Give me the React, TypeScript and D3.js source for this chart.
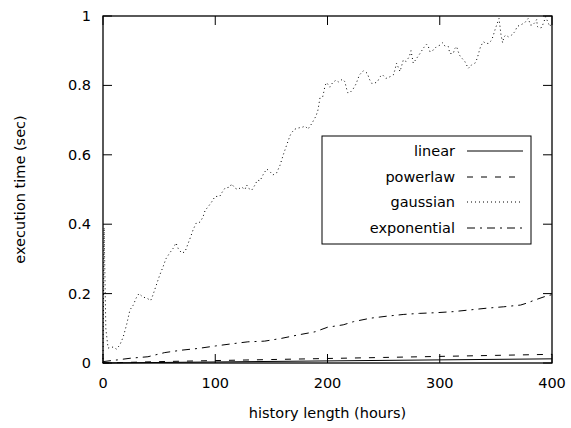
import React from "react";
import * as d3 from "d3";

// execution time (sec) vs history length (hours) for four kernels
const gaussianX = [0, 1, 2.5, 4.5, 9, 12, 15, 18, 21, 24, 27, 29.5, 32, 35.6, 39, 42.5, 44.5, 47, 50.5, 53.5, 56, 59.4, 62.4, 65, 67, 70, 73, 76, 78, 80.4, 83, 86.4, 89, 91, 93.6, 96.8, 99.8, 104, 105.7, 108.7, 113, 114.6, 117.6, 120, 123.5, 126.5, 128, 129.4, 132.5, 135.4, 137.5, 139.9, 142.5, 145.8, 148, 151.4, 154.7, 157.7, 160.6, 163.6, 166.6, 168, 171, 173.7, 178, 180, 182.6, 186, 189.8, 191.5, 193.3, 195.7, 196.9, 197.8, 199.3, 202, 204.6, 207.5, 209.6, 213.5, 215.6, 216.5, 218, 220, 222.9, 225.4, 228.4, 231.9, 235.5, 237.3, 239.4, 241.4, 244.4, 246.8, 249.2, 252, 255.7, 258.6, 260, 261.5, 264.6, 267.5, 270, 272.9, 274.4, 276.4, 279.4, 282.4, 285.3, 288.3, 289.8, 291.3, 294.3, 297.2, 300.2, 302.6, 304.7, 307.6, 309, 312, 313.6, 315, 316.5, 318, 322.5, 325.4, 328.4, 331.4, 333.4, 335, 336.4, 338.8, 341.2, 343.3, 346.2, 347.8, 349.2, 350.7, 352.8, 354.6, 356, 357.2, 359, 361, 364, 367, 369, 372, 375.8, 378.8, 380.9, 382.7, 384.7, 386.4, 386.9, 388.7, 390.8, 392.9, 394.3, 396, 398, 400];
const gaussianY = [0.0, 0.39, 0.1, 0.043, 0.046, 0.04, 0.052, 0.075, 0.11, 0.153, 0.167, 0.187, 0.2, 0.19, 0.187, 0.18, 0.196, 0.22, 0.253, 0.277, 0.3, 0.317, 0.33, 0.346, 0.33, 0.317, 0.32, 0.346, 0.363, 0.385, 0.403, 0.406, 0.42, 0.44, 0.45, 0.464, 0.48, 0.48, 0.49, 0.504, 0.507, 0.516, 0.504, 0.5, 0.507, 0.5, 0.513, 0.504, 0.498, 0.513, 0.527, 0.525, 0.542, 0.559, 0.554, 0.542, 0.548, 0.57, 0.6, 0.628, 0.655, 0.664, 0.674, 0.677, 0.68, 0.683, 0.674, 0.69, 0.712, 0.729, 0.764, 0.767, 0.784, 0.8, 0.808, 0.795, 0.808, 0.815, 0.81, 0.818, 0.81, 0.796, 0.779, 0.779, 0.79, 0.804, 0.83, 0.842, 0.835, 0.818, 0.806, 0.806, 0.81, 0.825, 0.83, 0.82, 0.825, 0.83, 0.844, 0.864, 0.84, 0.873, 0.869, 0.883, 0.9, 0.864, 0.878, 0.892, 0.907, 0.919, 0.912, 0.897, 0.902, 0.912, 0.916, 0.923, 0.913, 0.912, 0.892, 0.892, 0.907, 0.912, 0.897, 0.885, 0.868, 0.849, 0.859, 0.864, 0.878, 0.897, 0.912, 0.926, 0.921, 0.921, 0.93, 0.945, 0.96, 0.974, 0.993, 0.945, 0.923, 0.94, 0.945, 0.94, 0.945, 0.955, 0.97, 0.974, 0.981, 0.993, 0.974, 0.974, 0.981, 0.99, 0.97, 0.965, 0.967, 0.984, 0.998, 0.985, 0.97, 0.98];

const exponentialX = [0, 13, 25, 40, 55, 70, 85, 100, 114, 129, 144, 159, 174, 189, 200, 214, 223, 238, 253, 268, 282, 297, 312, 327, 342, 357, 372, 377, 386, 395, 400];
const exponentialY = [0.004, 0.009, 0.014, 0.018, 0.03, 0.037, 0.042, 0.049, 0.055, 0.061, 0.063, 0.071, 0.081, 0.09, 0.103, 0.11, 0.119, 0.129, 0.135, 0.14, 0.143, 0.145, 0.148, 0.153, 0.158, 0.162, 0.167, 0.172, 0.183, 0.193, 0.197];

const powerlawX = [0, 50, 100, 150, 200, 250, 300, 350, 400];
const powerlawY = [0, 0.004, 0.007, 0.01, 0.013, 0.016, 0.019, 0.022, 0.025];

const linearX = [0, 100, 200, 300, 400];
const linearY = [0, 0.003, 0.006, 0.009, 0.012];

const xTicks = [0, 100, 200, 300, 400];
const yTicks = [0, 0.2, 0.4, 0.6, 0.8, 1];

const seriesNames = ["linear", "powerlaw", "gaussian", "exponential"];

const W = 571;
const H = 428;
const FONT = "DejaVu Sans, sans-serif";

export default function App() {
  const x = d3.scaleLinear().domain([0, 400]).range([103, 552]);
  const y = d3.scaleLinear().domain([0, 1]).range([363, 16]);

  const line = d3
    .line<[number, number]>()
    .x((d) => x(d[0]))
    .y((d) => y(d[1]));

  const zip = (xs: number[], ys: number[]) =>
    xs.map((v, i) => [v, ys[i]] as [number, number]);

  const series = [
    { name: seriesNames[0], data: zip(linearX, linearY), dash: "none" },
    { name: seriesNames[1], data: zip(powerlawX, powerlawY), dash: "6,8" },
    { name: seriesNames[2], data: zip(gaussianX, gaussianY), dash: "1,3" },
    { name: seriesNames[3], data: zip(exponentialX, exponentialY), dash: "8,5,2,5" },
  ];

  const [x0, x1] = x.range();
  const [yb, yt] = y.range();
  const tickLen = 9;

  const legend = { left: 322, top: 136, right: 531, bottom: 244 };
  const rowY = [151, 177, 202, 228];

  return (
    <svg
      width={W}
      height={H}
      style={{ position: "absolute", left: 0, top: 0, background: "#fff" }}
      fontFamily={FONT}
    >
      <rect x={0} y={0} width={W} height={H} fill="#fff" />

      {/* series */}
      {series.map((s) => (
        <path
          key={s.name}
          d={line(s.data) || ""}
          fill="none"
          stroke="#000"
          strokeWidth={1}
          strokeDasharray={s.dash}
        />
      ))}

      {/* ticks, mirrored on all sides */}
      {xTicks.map((t) => (
        <g key={"xt" + t}>
          <line x1={x(t)} x2={x(t)} y1={yb} y2={yb - tickLen} stroke="#000" />
          <line x1={x(t)} x2={x(t)} y1={yt} y2={yt + tickLen} stroke="#000" />
          <text
            x={x(t)}
            y={yb + 25}
            textAnchor="middle"
            fontSize={14.5}
            fill="#000"
          >
            {d3.format("d")(t)}
          </text>
        </g>
      ))}
      {yTicks.map((t) => (
        <g key={"yt" + t}>
          <line x1={x0} x2={x0 + tickLen} y1={y(t)} y2={y(t)} stroke="#000" />
          <line x1={x1} x2={x1 - tickLen} y1={y(t)} y2={y(t)} stroke="#000" />
          <text
            x={x0 - 12}
            y={y(t) + 5}
            textAnchor="end"
            fontSize={14.5}
            fill="#000"
          >
            {t === 0 || t === 1 ? String(t) : d3.format(".1f")(t)}
          </text>
        </g>
      ))}

      {/* frame */}
      <rect
        x={x0}
        y={yt}
        width={x1 - x0}
        height={yb - yt}
        fill="none"
        stroke="#000"
        strokeWidth={1.3}
      />

      {/* axis titles */}
      <text
        x={(x0 + x1) / 2}
        y={418}
        textAnchor="middle"
        fontSize={14.5}
        fill="#000"
      >
        history length (hours)
      </text>
      <text
        transform={`translate(25,${(yt + yb) / 2}) rotate(-90)`}
        textAnchor="middle"
        fontSize={14.5}
        fill="#000"
      >
        execution time (sec)
      </text>

      {/* legend */}
      <rect
        x={legend.left}
        y={legend.top}
        width={legend.right - legend.left}
        height={legend.bottom - legend.top}
        fill="#fff"
        stroke="#000"
        strokeWidth={1}
      />
      {series.map((s, i) => (
        <g key={"lg" + s.name}>
          <text
            x={455}
            y={rowY[i] + 5}
            textAnchor="end"
            fontSize={14.5}
            fill="#000"
          >
            {s.name}
          </text>
          <line
            x1={467}
            x2={523}
            y1={rowY[i]}
            y2={rowY[i]}
            stroke="#000"
            strokeWidth={1}
            strokeDasharray={s.dash}
          />
        </g>
      ))}
    </svg>
  );
}
